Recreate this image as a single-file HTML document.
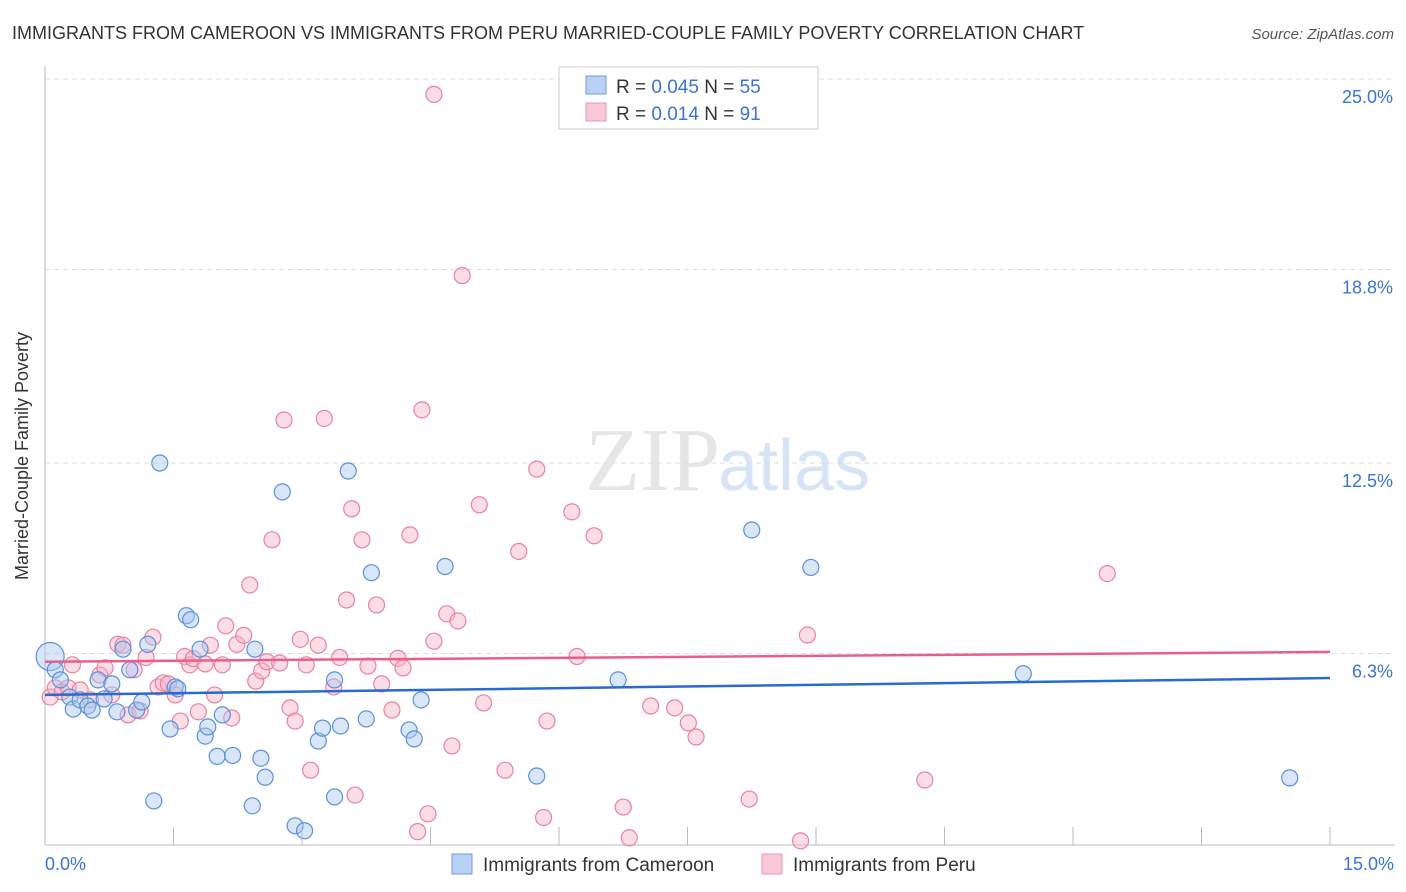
<!DOCTYPE html>
<html><head><meta charset="utf-8"><style>
body{margin:0;background:#fff;font-family:"Liberation Sans",sans-serif;}
#c{position:absolute;left:0;top:0;}
</style></head><body>
<svg id="c" width="1406" height="892" xmlns="http://www.w3.org/2000/svg">
<text x="12" y="39" font-size="18" fill="#333">IMMIGRANTS FROM CAMEROON VS IMMIGRANTS FROM PERU MARRIED-COUPLE FAMILY POVERTY CORRELATION CHART</text>
<text x="1394" y="39" font-size="15" fill="#555" font-style="italic" text-anchor="end">Source: ZipAtlas.com</text>
<text x="720" y="490" font-size="90" fill="#e6e6e6" text-anchor="end" font-family="Liberation Serif">ZIP</text>
<text x="718" y="490" font-size="72" fill="#d6e4f5">atlas</text>
<g id="grid"></g>
<line x1="45" y1="66" x2="45" y2="845" stroke="#bbb"/>
<line x1="45" y1="845" x2="1395" y2="845" stroke="#bbb"/>
<text x="28" y="456" font-size="18" fill="#333" text-anchor="middle" transform="rotate(-90 28 456)">Married-Couple Family Poverty</text>
<text x="45" y="870" font-size="18" fill="#3b74d1">0.0%</text>
<text x="1394" y="870" font-size="18" fill="#3b74d1" text-anchor="end">15.0%</text>
<g id="pts"></g>
<g id="trend"></g>
<g>
<rect x="559" y="67" width="259" height="62" fill="#fff" stroke="#ccc"/>
<rect x="586" y="76" width="20" height="18" fill="#b9d2f3" stroke="#6d9be0"/>
<rect x="586" y="103" width="20" height="18" fill="#f9c9d8" stroke="#ec95b1"/>
<text x="616" y="93" font-size="19" fill="#333">R = <tspan fill="#3b74d1">0.045</tspan>   N = <tspan fill="#3b74d1">55</tspan></text>
<text x="616" y="120" font-size="19" fill="#333">R =  <tspan fill="#3b74d1">0.014</tspan>   N =  <tspan fill="#3b74d1">91</tspan></text>
</g>
<g>
<rect x="452" y="854" width="20" height="20" fill="#b9d2f3" stroke="#6d9be0"/>
<text x="483" y="871" font-size="19" fill="#333">Immigrants from Cameroon</text>
<rect x="762" y="854" width="20" height="20" fill="#f9c9d8" stroke="#ec95b1"/>
<text x="793" y="871" font-size="19" fill="#333">Immigrants from Peru</text>
</g>
</svg>
<script>
const yTicks=[25.0,18.8,12.5,6.3];
const yTickLabels=["25.0%","18.8%","12.5%","6.3%"];
const cameroonX=[0.06,0.12,0.18,0.29,0.33,0.41,0.5,0.55,0.62,0.69,0.78,0.84,0.91,0.99,1.07,1.13,1.2,1.27,1.34,1.46,1.52,1.55,1.65,1.7,1.81,1.87,1.9,2.01,2.07,2.19,2.45,2.52,2.57,2.42,2.77,2.92,3.03,3.19,3.24,3.38,3.45,3.54,3.38,3.75,3.81,4.25,4.31,4.39,4.67,5.74,6.69,8.25,8.94,11.42,14.53];
const cameroonY=[6.2,5.77,5.44,4.88,4.49,4.79,4.59,4.46,5.44,4.82,5.31,4.4,6.44,5.77,4.46,4.72,6.6,1.5,12.5,3.84,5.21,5.15,7.53,7.4,6.44,3.61,3.91,2.95,4.3,2.98,6.44,2.89,2.27,1.34,11.56,0.69,0.53,3.45,3.87,5.44,3.94,12.24,1.63,4.17,8.93,3.81,3.52,4.79,9.13,2.31,5.44,10.32,9.1,5.64,2.25];
const peruX=[0.06,0.12,0.2,0.27,0.32,0.41,0.53,0.64,0.7,0.78,0.85,0.91,0.97,1.04,1.11,1.18,1.26,1.32,1.38,1.44,1.52,1.58,1.63,1.69,1.73,1.79,1.87,1.93,1.98,2.07,2.11,2.18,2.24,2.32,2.39,2.46,2.53,2.59,2.65,2.74,2.79,2.86,2.92,2.98,3.05,3.1,3.19,3.26,3.37,3.44,3.52,3.58,3.62,3.7,3.77,3.87,3.93,4.05,4.12,4.18,4.26,4.35,4.4,4.47,4.54,4.54,4.69,4.75,4.82,4.87,5.07,5.12,5.37,5.53,5.74,5.82,5.86,6.15,6.21,6.41,6.75,6.82,7.07,7.35,7.51,7.6,8.22,8.82,8.9,10.27,12.4];
const peruY=[4.88,5.18,5.05,5.18,5.93,5.11,4.79,5.6,5.83,4.95,6.6,6.57,4.3,5.77,4.43,6.17,6.83,5.21,5.34,5.31,4.95,4.1,6.2,5.93,6.13,4.4,5.96,6.57,4.95,5.93,7.2,4.2,6.6,6.89,8.53,5.4,5.73,6.03,10.0,5.99,13.9,4.53,4.1,6.76,5.93,2.5,6.57,13.95,5.21,6.17,8.04,11.01,1.69,10.0,5.89,7.88,5.31,4.46,6.14,5.83,10.16,0.5,14.23,1.08,6.7,24.5,7.59,3.29,7.36,18.6,11.14,4.69,2.5,9.62,12.3,0.96,4.1,10.91,6.2,10.13,1.3,0.3,4.59,4.53,4.04,3.58,1.56,0.2,6.9,2.18,8.9];
const camTrend=[4.95,5.5];
const peruTrend=[6.03,6.35];
const NS="http://www.w3.org/2000/svg";
const X=v=>45+v/15*1285, Y=v=>79+(25-v)*30.72;
const grid=document.getElementById('grid');
yTicks.forEach((t,i)=>{
 const l=document.createElementNS(NS,'line');
 l.setAttribute('x1',45);l.setAttribute('x2',1395);l.setAttribute('y1',Y(t));l.setAttribute('y2',Y(t));
 l.setAttribute('stroke','#ddd');l.setAttribute('stroke-dasharray','5,4');
 
 
 grid.appendChild(l);
 const tx=document.createElementNS(NS,'text');
 tx.setAttribute('x',1393);tx.setAttribute('y',Y(t)+24);tx.setAttribute('text-anchor','end');
 tx.setAttribute('font-size','18');tx.setAttribute('fill','#3b74d1');tx.textContent=yTickLabels[i];
 
 
 grid.appendChild(tx);
});
for(let i=0;i<=10;i++){
 const l=document.createElementNS(NS,'line');
 l.setAttribute('x1',X(i*1.5));l.setAttribute('x2',X(i*1.5));l.setAttribute('y1',827);l.setAttribute('y2',845);
 l.setAttribute('stroke','#bbb');
 
 
 grid.appendChild(l);
}
const pts=document.getElementById('pts');
function dots(xs,ys,fill,stroke,name){
 xs.forEach((x,i)=>{
  const c=document.createElementNS(NS,'circle');
  c.setAttribute('cx',X(x));c.setAttribute('cy',Y(ys[i]));c.setAttribute('r',i===0&&name==='cameroon-point'?14:8);
  c.setAttribute('fill',fill);c.setAttribute('fill-opacity','0.45');c.setAttribute('stroke',stroke);c.setAttribute('stroke-width','1.2');
  
  
  pts.appendChild(c);
 });
}
dots(peruX,peruY,'#f6b3c8','#e8829f','peru-point');
dots(cameroonX,cameroonY,'#a9c8f0','#5b8fdb','cameroon-point');
const tr=document.getElementById('trend');
function line(vals,color,name){
 const l=document.createElementNS(NS,'line');
 l.setAttribute('x1',X(0));l.setAttribute('x2',X(15));l.setAttribute('y1',Y(vals[0]));l.setAttribute('y2',Y(vals[1]));
 l.setAttribute('stroke',color);l.setAttribute('stroke-width','2.5');
 
 
 tr.appendChild(l);
}
line(peruTrend,'#e8608a','peru-trend-line');
line(camTrend,'#2a6ad0','cameroon-trend-line');
</script>
</body></html>
